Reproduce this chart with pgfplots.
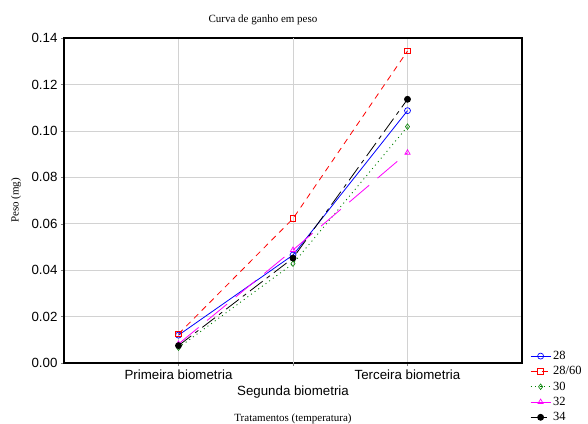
\documentclass[border=0pt]{standalone}
\usepackage{fontspec}
\setmainfont{Liberation Serif}
\newfontfamily\arial{Liberation Sans}
\usepackage{pgfplots}
\pgfplotsset{compat=1.18}
\definecolor{mag}{rgb}{1,0,1}
\definecolor{dgreen}{rgb}{0,0.5,0}
\begin{document}
\begin{tikzpicture}
\path[use as bounding box] (-64pt,-60pt) rectangle (524pt,363pt);
\begin{axis}[
  scale only axis, width=458pt, height=325pt,
  at={(0,0)}, anchor=south west,
  xmin=0, xmax=4, ymin=0, ymax=0.14,
  xtick={1,3}, xticklabels={Primeira biometria,Terceira biometria},
  extra x ticks={2}, extra x tick labels={Segunda biometria},
  extra x tick style={tick label style={yshift=-16pt}},
  ytick={0,0.02,...,0.14},
  /pgf/number format/assume math mode=true,
  yticklabel style={/pgf/number format/.cd, fixed, fixed zerofill, precision=2},
  tick label style={font=\arial\fontsize{13.3}{15}\selectfont},
  grid=major, major grid style={gray!35, line width=0.5pt},
  tick align=outside, xtick pos=bottom, ytick pos=left,
  major tick length=3pt,
  axis line style={line width=1.2pt},
  ylabel={Peso (mg)}, ylabel style={font=\fontsize{11}{13}\selectfont, anchor=center, at={(axis description cs:-0.105,0.5)}},
  xlabel={Tratamentos (temperatura)}, xlabel style={font=\fontsize{11}{13}\selectfont, anchor=center, at={(axis description cs:0.5,-0.172)}},
  title={Curva de ganho em peso}, title style={font=\fontsize{11}{13}\selectfont, anchor=center, at={(axis description cs:0.4345,1.037)}},
  legend style={draw=none, fill=none, at={(465pt,15pt)}, anchor=north west, font=\fontsize{12.5}{14}\selectfont, row sep=1.5pt, inner sep=1pt},
  legend image code/.code={\draw[mark repeat=2,mark phase=2] plot coordinates {(0cm,0cm) (0.35cm,0cm) (0.7cm,0cm)};},
  legend cell align=left,
  clip=false,
]
\addplot[blue, line width=0.8pt, mark=o, mark size=3pt, mark options={solid, fill=white, line width=0.7pt}]
  coordinates {(1,0.0120) (2,0.0465) (3,0.1087)};
\addlegendentry{28}
\addplot[red, line width=0.8pt, dash pattern=on 6pt off 5pt, mark=square, mark size=2.8pt, mark options={solid, fill=white, line width=0.7pt}]
  coordinates {(1,0.0125) (2,0.0622) (3,0.1344)};
\addlegendentry{28/60}
\addplot[dgreen, line width=0.9pt, dash pattern=on 1pt off 3.5pt, mark=diamond, mark size=2.8pt, mark options={solid, fill=white, line width=0.6pt}]
  coordinates {(1,0.0066) (2,0.0428) (3,0.1018)};
\addlegendentry{30}
\addplot[mag, line width=0.8pt, dash pattern=on 26pt off 11pt, mark=triangle, mark size=3pt, mark options={solid, fill=white, line width=0.7pt}]
  coordinates {(1,0.0082) (2,0.0487) (3,0.0906)};
\addlegendentry{32}
\addplot[black, line width=0.8pt, dash pattern=on 16pt off 5pt on 4pt off 5pt, mark=*, mark size=3pt, mark options={solid}]
  coordinates {(1,0.0075) (2,0.0452) (3,0.1136)};
\addlegendentry{34}
\end{axis}
\end{tikzpicture}
\end{document}
